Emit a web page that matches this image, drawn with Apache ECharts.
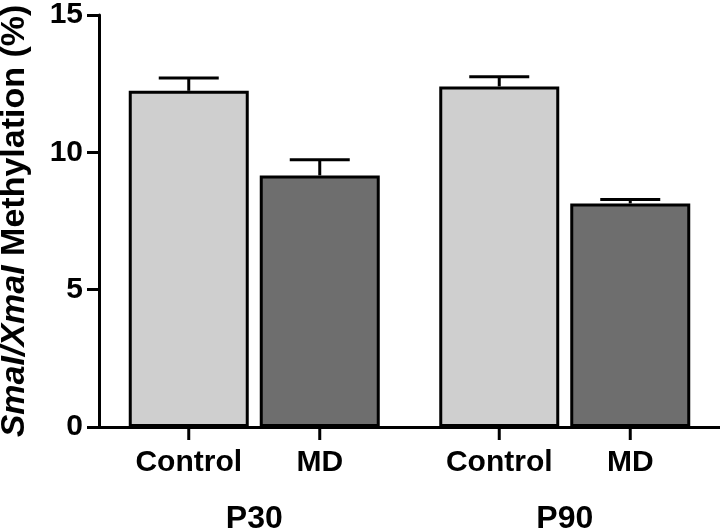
<!DOCTYPE html>
<html>
<head>
<meta charset="utf-8">
<script src="https://cdn.jsdelivr.net/npm/echarts@6/dist/echarts.min.js"></script>
<style>html,body{margin:0;padding:0;background:#fff}#c{width:720px;height:530px}</style>
</head>
<body>
<div id="c"></div>
<script>
const groups = ['P30', 'P90'];
const seriesNames = ['Control', 'MD'];
const controlMean = [12.24, 12.40];
const controlErr = [0.47, 0.35];
const mdMean = [9.16, 8.14];
const mdErr = [0.57, 0.14];
const yTicks = [0, 5, 10, 15];

const FONT = '"Liberation Sans", Arial, Helvetica, sans-serif';
const BAR_W = 120, GAP = 11;
const chart = echarts.init(document.getElementById('c'), null, {renderer: 'canvas'});

function errSeries(name, means, errs, sign) {
  return {
    type: 'custom', name: name + ' err', z: 5, silent: true,
    data: means.map((m, i) => [i, m, errs[i]]),
    renderItem: function (params, api) {
      const off = sign * (BAR_W + GAP) / 2;
      const base = api.coord([api.value(0), 0]);
      const x = base[0] + off;
      const yMean = api.coord([api.value(0), api.value(1)])[1];
      const yTop = api.coord([api.value(0), api.value(1) + api.value(2)])[1];
      const st = {stroke: '#000', lineWidth: 3, fill: null};
      return {type: 'group', children: [
        {type: 'line', shape: {x1: x, y1: yMean, x2: x, y2: yTop}, style: st},
        {type: 'line', shape: {x1: x - 30, y1: yTop, x2: x + 30, y2: yTop}, style: st},
        {type: 'line', shape: {x1: x, y1: base[1], x2: x, y2: base[1] + 13}, style: st}
      ]};
    }
  };
}

function barSeries(name, vals, color) {
  return {
    type: 'bar', name: name, data: vals, barWidth: BAR_W, barGap: (GAP / BAR_W * 100) + '%',
    itemStyle: {color: color, borderColor: '#000', borderWidth: 3},
    label: {show: true, position: 'bottom', distance: 21, formatter: name,
      fontFamily: FONT, fontWeight: 'bold', fontSize: 30, color: '#000'}
  };
}

chart.setOption({
  animation: false,
  backgroundColor: '#fff',
  grid: {left: 99, right: 0, top: 15, bottom: 103, containLabel: false, outerBoundsMode: 'none'},
  xAxis: {
    type: 'category', data: groups,
    axisLine: {lineStyle: {color: '#000', width: 3}},
    axisTick: {show: false},
    axisLabel: {margin: 76, fontFamily: FONT, fontWeight: 'bold', fontSize: 32, color: '#000'}
  },
  yAxis: {
    type: 'value', min: yTicks[0], max: yTicks[yTicks.length - 1], interval: 5,
    name: '{it|SmaI/XmaI}{b| Methylation (%)}',
    nameLocation: 'middle', nameGap: 67,
    nameTextStyle: {fontFamily: FONT, fontWeight: 'bold', fontSize: 34, color: '#000',
      rich: {
        it: {fontFamily: FONT, fontWeight: 'bold', fontStyle: 'italic', fontSize: 34, color: '#000'},
        b: {fontFamily: FONT, fontWeight: 'bold', fontSize: 34, color: '#000'}
      }},
    axisLine: {show: true, lineStyle: {color: '#000', width: 3}},
    axisTick: {show: true, length: 12, lineStyle: {color: '#000', width: 3}},
    axisLabel: {margin: 16, fontFamily: FONT, fontWeight: 'bold', fontSize: 30, color: '#000'},
    splitLine: {show: false}
  },
  series: [
    barSeries(seriesNames[0], controlMean, '#cfcfcf'),
    barSeries(seriesNames[1], mdMean, '#6e6e6e'),
    errSeries(seriesNames[0], controlMean, controlErr, -1),
    errSeries(seriesNames[1], mdMean, mdErr, 1)
  ]
});
</script>
</body>
</html>
